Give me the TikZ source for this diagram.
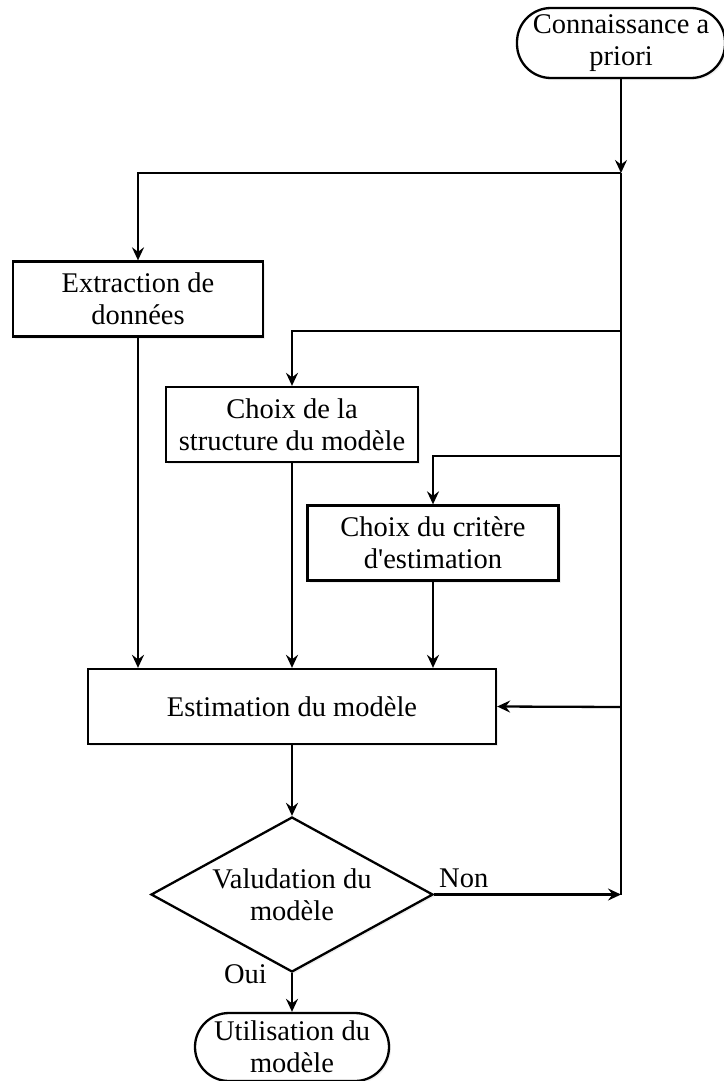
\documentclass[tikz,border=0pt]{standalone}
\usepackage{fontspec}
\setmainfont{Liberation Serif}[Ligatures=TeXOff]
\usetikzlibrary{arrows.meta,shapes.geometric,shadows}
\begin{document}
\begin{tikzpicture}[x=1pt,y=-1pt,
  every node/.style={font=\fontsize{28.5}{32}\selectfont},
  line/.style={line width=2.3pt},
  arr/.style={line,-{Stealth[length=13pt,width=12pt,inset=4.5pt]}},
  soft/.style={drop shadow={shadow xshift=2pt,shadow yshift=-2pt,fill=black!12}},
  proc/.style={draw,line width=2.3pt,fill=white,soft,align=center,inner sep=0pt,minimum height=75pt},
  term/.style={draw,line width=2.3pt,fill=white,soft,rounded corners=34pt,align=center,inner sep=0pt,minimum height=70pt},
  decide/.style={diamond,draw,line width=2.3pt,fill=white,soft,align=center,inner sep=0pt,aspect=1.82,minimum width=282pt,minimum height=155pt},
  tag/.style={inner sep=0pt}]
\useasboundingbox (0,0) rectangle (723,1081);

% flowchart boxes
\node[term,minimum width=208pt] (know) at (621,43) {Connaissance a\\priori};
\node[proc,minimum width=250pt] (extract) at (138,299) {Extraction de\\données};
\node[proc,minimum width=252pt] (struct) at (292,424.5) {Choix de la\\structure du modèle};
\node[proc,minimum width=251pt] (crit) at (433,543) {Choix du critère\\d'estimation};
\node[proc,minimum width=408pt] (estim) at (292,706.5) {Estimation du modèle};
\node[decide] (valid) at (292,894.5) {Valudation du\\modèle};
\node[term,minimum width=194pt,minimum height=68pt] (use) at (292,1047) {Utilisation du\\modèle};

% junctions on the feedback trunk
\coordinate (j1) at (621,173);
\coordinate (j2) at (621,331);
\coordinate (j3) at (621,456);
\coordinate (j4) at (621,707);
\coordinate (jn) at (621,894.5);

% connectors
\draw[arr] (know.south) -- (j1);
\draw[line] (j1) -- (jn);
\draw[arr] (j1) -| (extract.north);
\draw[arr] (j2) -| (struct.north);
\draw[arr] (j3) -| (crit.north);
\draw[arr] (j4) -- (estim.east);
\draw[arr] (extract.south) -- (extract.south |- estim.north);
\draw[arr] (struct.south) -- (struct.south |- estim.north);
\draw[arr] (crit.south) -- (crit.south |- estim.north);
\draw[arr] (estim.south) -- (valid.north);
\draw[arr] (valid.east) -- (jn);
\draw[arr] (valid.south) -- (use.north);

% branch labels
\node[tag,anchor=base west] (non) at (439,887) {Non};
\node[tag,anchor=base east] (oui) at (267,983) {Oui};
\end{tikzpicture}
\end{document}
